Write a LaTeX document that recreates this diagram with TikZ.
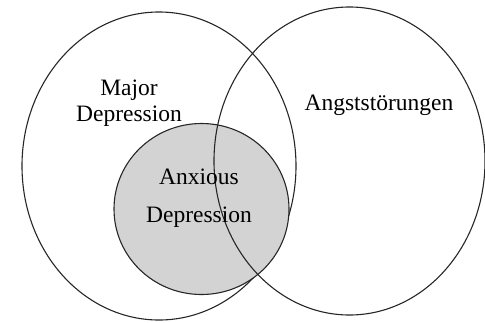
\documentclass[tikz,border=0pt]{standalone}
\usepackage{fontspec}
\setmainfont{Liberation Serif}
\begin{document}
\begin{tikzpicture}[x=1pt,y=-1pt,
  ring/.style={draw=black!85, line width=1.1pt},
  lbl/.style={inner sep=0pt, align=center, font=\fontsize{23.5}{26}\selectfont}]
\useasboundingbox (0,0) rectangle (485,322);
\definecolor{shade}{RGB}{211,211,211}
\draw[ring] (159,166) ellipse [x radius=137, y radius=154];
\filldraw[ring, fill=shade] (201.5,209) ellipse [x radius=87.5, y radius=85.5];
\draw[ring] (349.5,161) ellipse [x radius=135.5, y radius=154];
\node[lbl] (major) at (129,103.5) {Major\\Depression};
\node[lbl] (angst) at (379,105.5) {Angststörungen};
\node[lbl, font=\fontsize{23.5}{38}\selectfont] (anx) at (199,198.5) {Anxious\\Depression};
\end{tikzpicture}
\end{document}
